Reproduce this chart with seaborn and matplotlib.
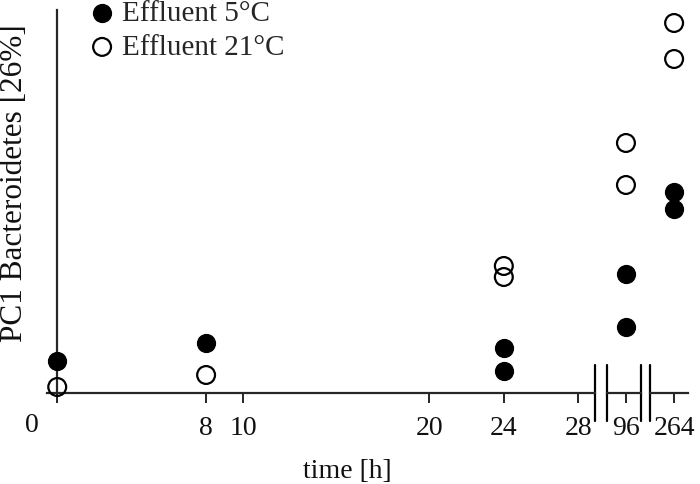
import matplotlib as mpl
mpl.use('Agg')
import matplotlib.pyplot as plt
import numpy as np
import pandas as pd
import seaborn as sns

# values (arbitrary PC1 units, axis at 0)
time_5 = [0, 8, 24, 24, 96, 96, 264, 264]
pc1_5 = [3.2, 5.0, 4.5, 2.2, 11.9, 6.6, 20.1, 18.4]
time_21 = [0, 8, 24, 24, 96, 96, 264, 264]
pc1_21 = [0.6, 1.8, 12.7, 11.6, 25.0, 20.8, 37.0, 33.4]

ticks_seg = [[0, 8, 10, 20, 24, 28], [96], [264]]
labels_seg = [['', '8', '10', '20', '24', '28'], ['96'], ['264']]
xlims = [(-0.55, 28.9), (94.98, 96.81), (262.7, 264.75)]

df5 = pd.DataFrame({'time': time_5, 'pc1': pc1_5})
df21 = pd.DataFrame({'time': time_21, 'pc1': pc1_21})

sns.set_theme(style='ticks')
plt.rcParams['font.family'] = ['Liberation Serif', 'DejaVu Serif']
plt.rcParams['font.size'] = 20

fig = plt.figure(figsize=(7, 4.84), dpi=100)
bottom, height = 91 / 484, 383 / 484
ax1 = fig.add_axes([47 / 700, bottom, 548 / 700, height])
ax2 = fig.add_axes([607 / 700, bottom, 34 / 700, height])
ax3 = fig.add_axes([650 / 700, bottom, 38 / 700, height])
axes = [ax1, ax2, ax3]

lw = 1.6
for k, ax in enumerate(axes):
    lo, hi = xlims[k]
    d5 = df5[(df5.time >= lo) & (df5.time <= hi)]
    d21 = df21[(df21.time >= lo) & (df21.time <= hi)]
    sns.scatterplot(data=d5, x='time', y='pc1', ax=ax, s=165, color='black',
                    edgecolor='black', linewidth=1.0, label='Effluent 5°C',
                    clip_on=False, zorder=3)
    sns.scatterplot(data=d21, x='time', y='pc1', ax=ax, s=165,
                    facecolor='none', edgecolor='black', linewidth=1.6,
                    label='Effluent 21°C', clip_on=False, zorder=3)
    ax.set_xlim(lo, hi)
    ax.set_ylim(0, 38.3)
    ax.set_xticks(ticks_seg[k])
    ax.set_xticklabels(labels_seg[k])
    ax.set_yticks([])
    ax.set_xlabel('')
    ax.set_ylabel('')
    for s in ['top', 'right', 'left']:
        ax.spines[s].set_visible(False)
    ax.spines['bottom'].set_linewidth(lw)
    ax.tick_params(axis='x', length=7.5, width=1.2, pad=9, labelsize=20,
                   color='black', labelcolor='#111111')
    ax.patch.set_alpha(0)
    if ax.get_legend() is not None:
        ax.get_legend().remove()

# y axis sits at time 0
ax1.spines['left'].set_visible(True)
ax1.spines['left'].set_position(('data', 0))
ax1.spines['left'].set_linewidth(lw)
ax1.spines['left'].set_zorder(1)

# break marks
for ax, xs in [(ax1, [1]), (ax2, [0, 1]), (ax3, [0])]:
    for xb in xs:
        ax.plot([xb, xb], [-0.073, 0.073], transform=ax.transAxes,
                color='black', lw=lw, clip_on=False)

fig.text(32 / 700, 1 - 425 / 484, '0', ha='center', va='center', fontsize=20,
         color='#111111')
fig.text(347 / 700, 1 - 472 / 484, 'time [h]', ha='center', va='center',
         fontsize=20, color='#111111')
fig.text(15 / 700, 1 - 183 / 484, 'PC1 Bacteroidetes [26%]', rotation=90,
         ha='center', va='center', fontsize=22.5, color='#111111')

h, l = ax1.get_legend_handles_labels()
fig.legend(h[:2], l[:2], loc='center left', bbox_to_anchor=(87.5 / 700, 1 - 30.5 / 484),
           frameon=False, borderpad=0, borderaxespad=0, handlelength=1.0,
           handletextpad=0.2, labelspacing=0.25, fontsize=21)

plt.savefig('out.png', dpi=100)
